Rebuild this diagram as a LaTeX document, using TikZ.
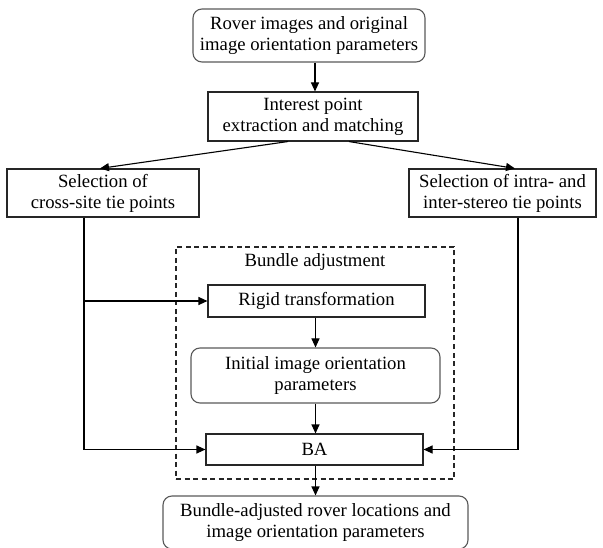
\documentclass[tikz,border=0pt]{standalone}
\usepackage{fontspec}
\setmainfont{Liberation Serif}
\usetikzlibrary{arrows.meta}
\begin{document}
\begin{tikzpicture}[x=1pt,y=-1pt,
  font=\fontsize{18.7}{21}\selectfont,
  box/.style={draw=black!85, line width=1.1pt, align=center, inner sep=0pt},
  rbox/.style={box, draw=black!65, rounded corners=9pt},
  arr/.style={line width=1.1pt, -{Triangle[length=9pt,width=8pt]}},
  ln/.style={line width=1.1pt}]
\useasboundingbox (0,0) rectangle (603,548);
\clip (0,0) rectangle (603,548);
\node[rbox, minimum width=232pt, minimum height=53pt] (top) at (309,35.5)
  {Rover images and original\\image orientation parameters};
\node[box, minimum width=210pt, minimum height=49pt] (ip) at (313,116.5)
  {Interest point\\extraction and matching};
\node[box, minimum width=192pt, minimum height=48pt] (left) at (103,193)
  {Selection of\\cross-site tie points};
\node[box, minimum width=187pt, minimum height=48pt] (right) at (502.5,193)
  {Selection of intra- and\\inter-stereo tie points};
\node[draw=black!85, line width=1.1pt, dash pattern=on 5pt off 3.5pt,
  minimum width=278pt, minimum height=232pt, inner sep=0pt] (bundle) at (315,363) {};
\node[inner sep=0pt] (blabel) at (315,262) {Bundle adjustment};
\node[box, minimum width=217pt, minimum height=32pt] (rigid) at (316.5,301)
  {Rigid transformation};
\node[rbox, minimum width=249pt, minimum height=55pt] (init) at (315.5,375.5)
  {Initial image orientation\\parameters};
\node[box, minimum width=217pt, minimum height=31pt] (ba) at (314.5,449.5) {BA};
\node[rbox, minimum width=305pt, minimum height=53pt] (out) at (315.5,522.5)
  {Bundle-adjusted rover locations and\\image orientation parameters};
\coordinate (lt) at ([xshift=-19pt]left.south);
\coordinate (rt) at ([xshift=15.5pt]right.south);
\draw[arr] (top.south -| ip.south) ++(2,0) -- ([xshift=2pt]ip.north);
\draw[arr] ([xshift=-25pt]ip.south) -- ([xshift=-3pt]left.north);
\draw[arr] ([xshift=36pt]ip.south) -- ([xshift=12.5pt]right.north);
\draw[arr] (lt) |- (ba.west);
\draw[arr] (lt |- rigid.west) -- (rigid.west);
\draw[arr] (rt) |- (ba.east);
\draw[arr] (rigid.south -| init.south) -- (init.north);
\draw[arr] (init.south) -- (init.south |- ba.north);
\draw[arr] (ba.south -| out.north) -- (out.north);
\end{tikzpicture}
\end{document}
